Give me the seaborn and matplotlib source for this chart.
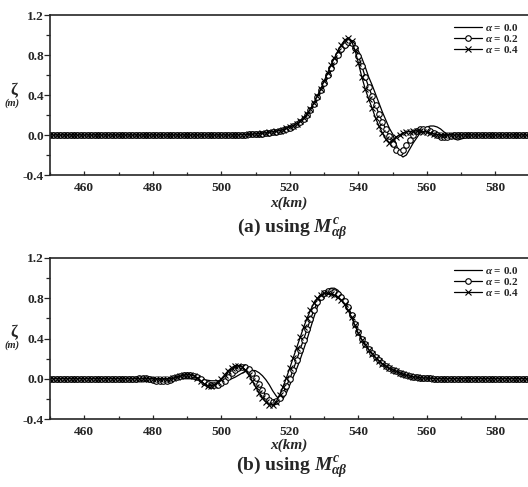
import matplotlib
matplotlib.use('Agg')
import matplotlib.pyplot as plt
from matplotlib.ticker import MultipleLocator
import pandas as pd
import seaborn as sns

# x positions (km), one sample per km
x_km = list(range(450, 591))

# (a) using M^c_ab : surface elevation (m)
a_alpha00 = [
    0, 0, 0, 0, 0, 0, 0, 0, 0, 0,
    0, 0, 0, 0, 0, 0, 0, 0, 0, 0,
    0, 0, 0, 0, 0, 0, 0, 0, 0, 0,
    0, 0, 0, 0, 0, 0, 0, 0, 0, 0,
    0, 0, 0, 0, 0, 0, 0, 0, 0, 0,
    0, 0, 0, 0, 0, 0.002, 0.003, 0.004, 0.005, 0.007,
    0.009, 0.011, 0.014, 0.017, 0.021, 0.026, 0.032, 0.039, 0.048, 0.058,
    0.07, 0.085, 0.10, 0.12, 0.15, 0.19, 0.24, 0.30, 0.36, 0.43,
    0.50, 0.57, 0.64, 0.71, 0.77, 0.82, 0.86, 0.89, 0.91, 0.89,
    0.84, 0.77, 0.68, 0.58, 0.50, 0.41, 0.32, 0.23, 0.15, 0.07,
    0.01, -0.09, -0.19, -0.22, -0.20, -0.14, -0.08, -0.03, 0.02, 0.05,
    0.08, 0.09, 0.09, 0.08, 0.06, 0.03, 0.01, -0.02, -0.04, -0.05,
    -0.04, -0.03, -0.01, 0, 0.005, 0.005, 0, 0, 0, 0,
    0, 0, 0, 0, 0, 0, 0, 0, 0, 0,
    0,
]
a_alpha02 = [
    0, 0, 0, 0, 0, 0, 0, 0, 0, 0,
    0, 0, 0, 0, 0, 0, 0, 0, 0, 0,
    0, 0, 0, 0, 0, 0, 0, 0, 0, 0,
    0, 0, 0, 0, 0, 0, 0, 0, 0, 0,
    0, 0, 0, 0, 0, 0, 0, 0, 0, 0,
    0, 0, 0, 0, 0, 0.002, 0.003, 0.004, 0.006, 0.008,
    0.010, 0.012, 0.015, 0.019, 0.023, 0.028, 0.034, 0.042, 0.051, 0.062,
    0.075, 0.09, 0.11, 0.13, 0.16, 0.20, 0.25, 0.31, 0.38, 0.45,
    0.52, 0.60, 0.67, 0.74, 0.80, 0.86, 0.90, 0.93, 0.92, 0.87,
    0.79, 0.69, 0.58, 0.48, 0.39, 0.30, 0.21, 0.13, 0.06, -0.01,
    -0.09, -0.15, -0.17, -0.15, -0.10, -0.05, 0.0, 0.04, 0.06, 0.065,
    0.06, 0.04, 0.02, 0.0, -0.015, -0.02, -0.015, -0.01, 0, 0,
    0, 0, 0, 0, 0, 0, 0, 0, 0, 0,
    0, 0, 0, 0, 0, 0, 0, 0, 0, 0,
    0,
]
a_alpha04 = [
    0, 0, 0, 0, 0, 0, 0, 0, 0, 0,
    0, 0, 0, 0, 0, 0, 0, 0, 0, 0,
    0, 0, 0, 0, 0, 0, 0, 0, 0, 0,
    0, 0, 0, 0, 0, 0, 0, 0, 0, 0,
    0, 0, 0, 0, 0, 0, 0, 0, 0, 0,
    0, 0, 0, 0, 0, 0.002, 0.003, 0.005, 0.006, 0.008,
    0.011, 0.014, 0.017, 0.021, 0.026, 0.031, 0.037, 0.045, 0.055, 0.067,
    0.08, 0.095, 0.115, 0.14, 0.17, 0.21, 0.26, 0.32, 0.39, 0.46,
    0.54, 0.62, 0.70, 0.77, 0.84, 0.90, 0.95, 0.97, 0.94, 0.85,
    0.72, 0.58, 0.46, 0.36, 0.27, 0.17, 0.09, 0.02, -0.04, -0.08,
    -0.05, -0.02, 0.0, 0.02, 0.03, 0.035, 0.04, 0.04, 0.04, 0.035,
    0.03, 0.02, 0.01, 0.005, 0, 0, 0, 0, 0, 0,
    0, 0, 0, 0, 0, 0, 0, 0, 0, 0,
    0, 0, 0, 0, 0, 0, 0, 0, 0, 0,
    0,
]

# (b) using M^c_ab
b_alpha00 = [
    0, 0, 0, 0, 0, 0, 0, 0, 0, 0,
    0, 0, 0, 0, 0, 0, 0, 0, 0, 0,
    0, 0, 0, 0, 0, 0, 0, 0, 0, 0,
    0, 0, 0, 0, 0, 0, 0, 0, 0, 0,
    0, 0, 0, -0.005, -0.005, -0.01, -0.015, -0.02, -0.02, -0.02,
    -0.02, -0.015, -0.01, 0.0, 0.015, 0.035, 0.055, 0.07, 0.08, 0.085,
    0.08, 0.06, 0.03, -0.01, -0.06, -0.12, -0.17, -0.21, -0.20, -0.14,
    -0.06, 0.02, 0.10, 0.19, 0.29, 0.39, 0.50, 0.61, 0.71, 0.79,
    0.85, 0.88, 0.90, 0.90, 0.88, 0.84, 0.79, 0.72, 0.63, 0.54,
    0.46, 0.40, 0.35, 0.30, 0.26, 0.22, 0.19, 0.16, 0.13, 0.11,
    0.09, 0.075, 0.06, 0.045, 0.035, 0.025, 0.02, 0.015, 0.01, 0.008,
    0.005, 0.003, 0.002, 0, 0, 0, 0, 0, 0, 0,
    0, 0, 0, 0, 0, 0, 0, 0, 0, 0,
    0, 0, 0, 0, 0, 0, 0, 0, 0, 0,
    0,
]
b_alpha02 = [
    0, 0, 0, 0, 0, 0, 0, 0, 0, 0,
    0, 0, 0, 0, 0, 0, 0, 0, 0, 0,
    0, 0, 0, 0, 0, 0, 0.005, 0.01, 0.005, 0.0,
    -0.01, -0.02, -0.025, -0.025, -0.02, -0.01, 0.005, 0.02, 0.03, 0.035,
    0.04, 0.035, 0.03, 0.02, 0.0, -0.03, -0.05, -0.06, -0.065, -0.06,
    -0.045, -0.02, 0.02, 0.06, 0.09, 0.11, 0.12, 0.12, 0.10, 0.06,
    0.01, -0.05, -0.11, -0.17, -0.21, -0.23, -0.22, -0.19, -0.14, -0.07,
    0.0, 0.09, 0.19, 0.29, 0.39, 0.49, 0.59, 0.68, 0.76, 0.81,
    0.85, 0.87, 0.87, 0.86, 0.84, 0.81, 0.77, 0.71, 0.63, 0.54,
    0.46, 0.40, 0.35, 0.30, 0.26, 0.22, 0.19, 0.16, 0.13, 0.11,
    0.09, 0.075, 0.06, 0.045, 0.035, 0.025, 0.02, 0.015, 0.01, 0.008,
    0.005, 0.003, 0.002, 0, 0, 0, 0, 0, 0, 0,
    0, 0, 0, 0, 0, 0, 0, 0, 0, 0,
    0, 0, 0, 0, 0, 0, 0, 0, 0, 0,
    0,
]
b_alpha04 = [
    0, 0, 0, 0, 0, 0, 0, 0, 0, 0,
    0, 0, 0, 0, 0, 0, 0, 0, 0, 0,
    0, 0, 0, 0, 0, 0, 0, 0, 0, 0,
    0, 0, 0, 0, 0, 0, 0.005, 0.015, 0.025, 0.035,
    0.04, 0.04, 0.03, 0.01, -0.02, -0.05, -0.07, -0.07, -0.06, -0.03,
    0.0, 0.04, 0.08, 0.11, 0.13, 0.13, 0.12, 0.09, 0.04, -0.02,
    -0.08, -0.14, -0.19, -0.23, -0.26, -0.26, -0.23, -0.16, -0.08, 0.01,
    0.11, 0.21, 0.31, 0.41, 0.51, 0.60, 0.68, 0.75, 0.80, 0.83,
    0.85, 0.85, 0.84, 0.83, 0.81, 0.78, 0.74, 0.68, 0.61, 0.53,
    0.45, 0.39, 0.34, 0.29, 0.25, 0.21, 0.18, 0.15, 0.125, 0.105,
    0.09, 0.075, 0.06, 0.045, 0.035, 0.025, 0.02, 0.015, 0.01, 0.008,
    0.005, 0.003, 0.002, 0, 0, 0, 0, 0, 0, 0,
    0, 0, 0, 0, 0, 0, 0, 0, 0, 0,
    0, 0, 0, 0, 0, 0, 0, 0, 0, 0,
    0,
]

alpha_labels = [r'$\alpha$ = 0.0', r'$\alpha$ = 0.2', r'$\alpha$ = 0.4']
captions = [r'(a) using $M^{c}_{\alpha\beta}$', r'(b) using $M^{c}_{\alpha\beta}$']

sns.set_style('ticks')
plt.rcParams['font.family'] = ['Liberation Serif', 'DejaVu Serif']
plt.rcParams['font.weight'] = 'bold'
plt.rcParams['mathtext.fontset'] = 'custom'
plt.rcParams['mathtext.it'] = 'Liberation Serif:italic:bold'
plt.rcParams['mathtext.rm'] = 'Liberation Serif:bold'
plt.rcParams['mathtext.bf'] = 'Liberation Serif:bold'

W, H = 528, 487
fig = plt.figure(figsize=(W / 100, H / 100), dpi=100)


def draw_panel(ax, series):
    styles = [
        dict(marker=None),
        dict(marker='o', markersize=4.0, markerfacecolor='white',
             markeredgecolor='black', markeredgewidth=0.8),
        dict(marker='x', markersize=4.2, markeredgecolor='black',
             markeredgewidth=0.8),
    ]
    for y, lab, st in zip(series, alpha_labels, styles):
        df = pd.DataFrame({'x': x_km, 'zeta': y})
        sns.lineplot(data=df, x='x', y='zeta', ax=ax, color='black',
                     linewidth=0.9, label=lab, **st)
    ax.set_xlim(450, 589.5)
    ax.set_ylim(-0.4, 1.2)
    ax.xaxis.set_major_locator(MultipleLocator(20))
    ax.xaxis.set_minor_locator(MultipleLocator(10))
    ax.yaxis.set_major_locator(MultipleLocator(0.4))
    ax.yaxis.set_minor_locator(MultipleLocator(0.2))
    ax.yaxis.set_major_formatter(plt.FuncFormatter(lambda v, p: f'{v:.1f}'))
    ax.set_xlabel('')
    ax.set_ylabel('')
    ax.spines['right'].set_visible(False)
    for s in ['top', 'left', 'bottom']:
        ax.spines[s].set_linewidth(1.2)
    ax.tick_params(axis='x', which='major', direction='in', length=3,
                   width=0.9, labelsize=9.6, pad=5)
    ax.tick_params(axis='x', which='minor', direction='in', length=2, width=0.9)
    ax.tick_params(axis='y', which='major', direction='out', length=4,
                   width=0.9, labelsize=9.6, pad=0.5)
    ax.tick_params(axis='y', which='minor', direction='out', length=3, width=0.9)
    ax.legend(loc='upper right', bbox_to_anchor=(0.995, 1.0), frameon=False,
              fontsize=8, handlelength=2.5, handletextpad=0.3,
              labelspacing=0.0, borderaxespad=0.2)


ax_a = fig.add_axes([50 / W, 1 - 175 / H, 478 / W, 160 / H])
draw_panel(ax_a, [a_alpha00, a_alpha02, a_alpha04])
ax_b = fig.add_axes([50 / W, 1 - 419 / H, 478 / W, 161 / H])
draw_panel(ax_b, [b_alpha00, b_alpha02, b_alpha04])

# axis labels and captions
for yz, yx, yc, cap in [(91, 203, 229, captions[0]), (333, 445, 467, captions[1])]:
    fig.text(14 / W, 1 - yz / H, 'ζ', fontsize=12, ha='center', va='center')
    fig.text(12 / W, 1 - (yz + 12) / H, '(m)', fontsize=7.5, style='italic',
             ha='center', va='center')
    fig.text(289 / W, 1 - yx / H, 'x(km)', fontsize=11, style='italic',
             ha='center', va='center')
    fig.text(292 / W, 1 - yc / H, cap, fontsize=14, ha='center', va='center')

fig.savefig('out.png', dpi=100)
